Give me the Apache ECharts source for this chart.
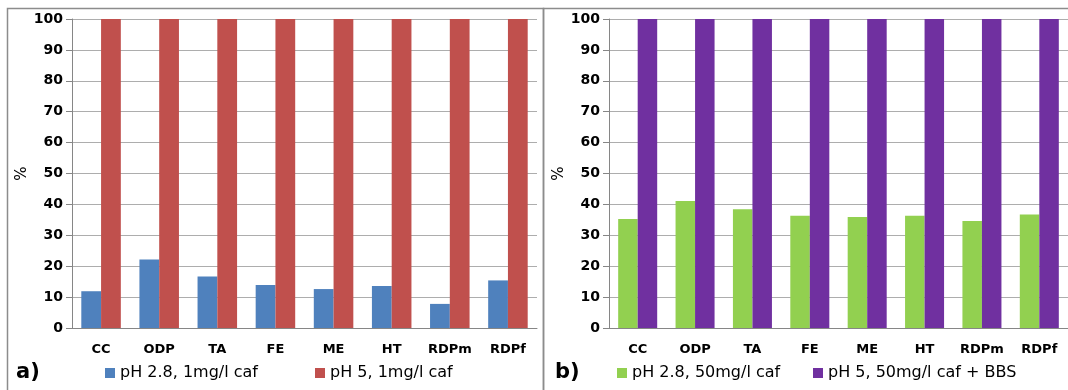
<!DOCTYPE html>
<html>
<head>
<meta charset="utf-8">
<script src="https://cdn.jsdelivr.net/npm/echarts@6/dist/echarts.min.js"></script>
<style>
html,body{margin:0;padding:0;background:#fff;}
#chart{width:1068px;height:390px;}
</style>
</head>
<body>
<div id="chart"></div>
<script>
const categories = ['CC','ODP','TA','FE','ME','HT','RDPm','RDPf'];
const seriesA1Name = 'pH 2.8, 1mg/l caf';
const seriesA1 = [11.9, 22.2, 16.7, 13.9, 12.6, 13.6, 7.8, 15.4];
const seriesA2Name = 'pH 5, 1mg/l caf';
const seriesA2 = [100, 100, 100, 100, 100, 100, 100, 100];
const seriesB1Name = 'pH 2.8, 50mg/l caf';
const seriesB1 = [35.3, 41.1, 38.4, 36.3, 35.9, 36.3, 34.6, 36.7];
const seriesB2Name = 'pH 5, 50mg/l caf + BBS';
const seriesB2 = [100, 100, 100, 100, 100, 100, 100, 100];
const yTicks = {min: 0, max: 100, interval: 10};

const FONT = 'DejaVu Sans';
const chart = echarts.init(document.getElementById('chart'), null, {renderer: 'canvas'});

function yAxis(gridIndex) {
  return {
    type: 'value', gridIndex: gridIndex,
    min: yTicks.min, max: yTicks.max, interval: yTicks.interval,
    name: '%', nameLocation: 'middle', nameGap: 41, nameRotate: 90,
    nameTextStyle: {fontFamily: FONT, fontSize: 15, color: '#000'},
    axisLine: {show: true, lineStyle: {color: '#868686', width: 1}},
    axisTick: {show: true, length: 6, lineStyle: {color: '#868686'}},
    axisLabel: {fontFamily: FONT, fontWeight: 'bold', fontSize: 14, color: '#000', margin: 9},
    splitLine: {show: true, lineStyle: {color: '#adadad', width: 1}}
  };
}
function xAxis(gridIndex) {
  return {
    type: 'category', gridIndex: gridIndex, data: categories,
    axisLine: {show: true, lineStyle: {color: '#868686', width: 1}},
    axisTick: {show: false},
    axisLabel: {fontFamily: FONT, fontWeight: 'bold', fontSize: 13, color: '#000', margin: 15, interval: 0}
  };
}
function bar(name, data, color, idx) {
  return {
    type: 'bar', name: name, data: data, xAxisIndex: idx, yAxisIndex: idx,
    barGap: '0%', barCategoryGap: '32%',
    itemStyle: {color: color},
    emphasis: {disabled: true}
  };
}
function legend(name, left) {
  return {
    data: [name], left: left, top: 365, padding: 0,
    icon: 'rect', itemWidth: 10, itemHeight: 10, itemGap: 5,
    textStyle: {fontFamily: FONT, fontSize: 16, color: '#000'}
  };
}

chart.setOption({
  animation: false,
  grid: [
    {left: 72, top: 19, width: 465, height: 309},
    {left: 609, top: 19, width: 463, height: 309}
  ],
  xAxis: [xAxis(0), xAxis(1)],
  yAxis: [yAxis(0), yAxis(1)],
  legend: [
    legend(seriesA1Name, 105),
    legend(seriesA2Name, 315),
    legend(seriesB1Name, 617),
    legend(seriesB2Name, 813)
  ],
  series: [
    bar(seriesA1Name, seriesA1, '#4F81BD', 0),
    bar(seriesA2Name, seriesA2, '#C0504D', 0),
    bar(seriesB1Name, seriesB1, '#92D050', 1),
    bar(seriesB2Name, seriesB2, '#7030A0', 1)
  ],
  graphic: [
    {type: 'rect', shape: {x: 7.5, y: 8.5, width: 536, height: 400}, style: {fill: 'none', stroke: '#8c8c8c', lineWidth: 1.5}, silent: true},
    {type: 'rect', shape: {x: 543.5, y: 8.5, width: 600, height: 400}, style: {fill: 'none', stroke: '#8c8c8c', lineWidth: 1.5}, silent: true},
    {type: 'text', left: 16, top: 362, style: {text: 'a)', fontFamily: FONT, fontWeight: 'bold', fontSize: 21, fill: '#000'}},
    {type: 'text', left: 555, top: 362, style: {text: 'b)', fontFamily: FONT, fontWeight: 'bold', fontSize: 21, fill: '#000'}}
  ]
});
</script>
</body>
</html>
